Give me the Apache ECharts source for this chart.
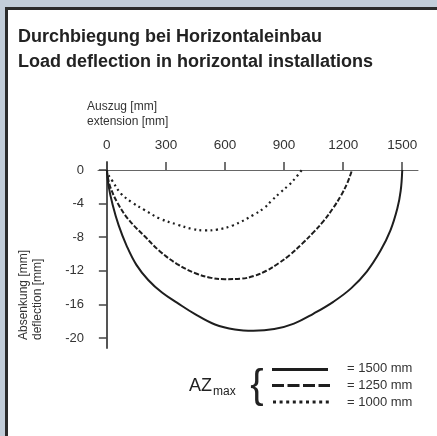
<!DOCTYPE html>
<html>
<head>
<meta charset="utf-8">
<script src="https://cdn.jsdelivr.net/npm/echarts@6/dist/echarts.min.js"></script>
<style>html,body{margin:0;padding:0;background:#c2cdd9;}#c{width:437px;height:436px;}</style>
</head>
<body>
<div id="c"></div>
<script>
// Data
var xTicks = [0, 300, 600, 900, 1200, 1500];
var yTicks = [0, -4, -8, -12, -16, -20];

var solidX = [0, 8, 30, 60, 100, 150, 210, 280, 356, 450, 549, 650, 744, 850, 950, 1050, 1150, 1240, 1320, 1390, 1440, 1475, 1492, 1500];
var solidY = [0, -1.8, -4.2, -6.6, -9.0, -11.3, -13.1, -14.6, -15.8, -17.2, -18.4, -19.0, -19.15, -18.95, -18.3, -17.1, -15.7, -14.1, -12.1, -9.6, -7.2, -4.6, -2.5, 0];

var dashX = [0, 6, 20, 56, 110, 192, 270, 357, 450, 530, 600, 680, 750, 810, 873, 930, 991, 1050, 1100, 1150, 1190, 1222, 1245];
var dashY = [0, -1, -2.2, -4, -5.9, -7.9, -9.7, -11.2, -12.3, -12.85, -13.0, -12.95, -12.6, -12.0, -11.1, -10.1, -8.8, -7.4, -6.1, -4.5, -3.0, -1.5, 0];

var dotX = [0, 8, 25, 71, 130, 191, 270, 357, 430, 498, 560, 640, 744, 800, 839, 880, 924, 960, 990];
var dotY = [0, -0.6, -1.2, -2.8, -3.9, -4.76, -5.8, -6.5, -7.0, -7.2, -7.1, -6.6, -5.36, -4.5, -3.6, -2.7, -1.8, -0.9, 0];

var legendLabels = ['= 1500 mm', '= 1250 mm', '= 1000 mm'];

function pairs(xs, ys) { return xs.map(function (x, i) { return [x, ys[i]]; }); }

var FONT = '"Liberation Sans", Arial, sans-serif';
var ink = '#1e1e1e';

var chart = echarts.init(document.getElementById('c'));
chart.setOption({
  backgroundColor: '#c2cdd9',
  animation: false,
  grid: { left: 98, top: 162, width: 320, height: 186, containLabel: false },
  xAxis: {
    type: 'value', position: 'top', min: -45, max: 1580,
    axisLine: { onZero: true, lineStyle: { color: '#666', width: 1 } },
    axisTick: { show: true, length: 8, customValues: xTicks, lineStyle: { color: '#444', width: 1.5 } },
    axisLabel: { customValues: xTicks, margin: 10, fontSize: 13.5, fontFamily: FONT, color: '#333',
      formatter: function (v) { return String(v); } },
    splitLine: { show: false }
  },
  yAxis: {
    type: 'value', min: -21.2, max: 0.95,
    axisLine: { onZero: true, lineStyle: { color: '#555', width: 2 } },
    axisTick: { show: true, length: 8, customValues: yTicks, lineStyle: { color: '#444', width: 1.5 } },
    axisLabel: { customValues: yTicks, margin: 14, fontSize: 13, fontFamily: FONT, color: '#333',
      formatter: function (v) { return String(v); } },
    splitLine: { show: false }
  },
  series: [
    { type: 'line', data: pairs(solidX, solidY), smooth: 0.4, symbol: 'none', lineStyle: { color: ink, width: 2 } },
    { type: 'line', data: pairs(dashX, dashY), smooth: 0.4, symbol: 'none', lineStyle: { color: ink, width: 2, type: [5, 2] } },
    { type: 'line', data: pairs(dotX, dotY), smooth: 0.4, symbol: 'none', lineStyle: { color: ink, width: 2.2, type: [2, 3.5] } }
  ],
  graphic: [
    { type: 'rect', z: -10, shape: { x: 6.5, y: 8.5, width: 440, height: 440 }, style: { fill: '#fff', stroke: '#2b2b2b', lineWidth: 3 } },
    { type: 'text', x: 18, y: 37, style: { text: 'Durchbiegung bei Horizontaleinbau', font: 'bold 18px ' + FONT, fill: '#222', verticalAlign: 'middle' } },
    { type: 'text', x: 18, y: 62, style: { text: 'Load deflection in horizontal installations', font: 'bold 18px ' + FONT, fill: '#222', verticalAlign: 'middle' } },
    { type: 'text', x: 87, y: 107, style: { text: 'Auszug [mm]', font: '12px ' + FONT, fill: '#333', verticalAlign: 'middle' } },
    { type: 'text', x: 87, y: 122, style: { text: 'extension [mm]', font: '12px ' + FONT, fill: '#333', verticalAlign: 'middle' } },
    { type: 'text', x: 24, y: 340, rotation: Math.PI / 2, style: { text: 'Absenkung [mm]', font: '12px ' + FONT, fill: '#333', align: 'left', verticalAlign: 'middle' } },
    { type: 'text', x: 38, y: 340, rotation: Math.PI / 2, style: { text: 'deflection [mm]', font: '12px ' + FONT, fill: '#333', align: 'left', verticalAlign: 'middle' } },
    { type: 'text', x: 189, y: 386, style: { text: 'AZ', font: '18px ' + FONT, fill: '#222', verticalAlign: 'middle' } },
    { type: 'text', x: 213, y: 392, style: { text: 'max', font: '12px ' + FONT, fill: '#222', verticalAlign: 'middle' } },
    { type: 'text', x: 257, y: 387, style: { text: '{', font: '40px ' + FONT, fill: '#222', align: 'center', verticalAlign: 'middle' } },
    { type: 'line', shape: { x1: 272, y1: 369.5, x2: 328, y2: 369.5 }, style: { stroke: ink, lineWidth: 3 } },
    { type: 'line', shape: { x1: 272, y1: 385.5, x2: 330, y2: 385.5 }, style: { stroke: ink, lineWidth: 3, lineDash: [12, 3.5] } },
    { type: 'line', shape: { x1: 273, y1: 402, x2: 331, y2: 402 }, style: { stroke: ink, lineWidth: 3, lineDash: [3, 3.6] } },
    { type: 'text', x: 347, y: 368, style: { text: legendLabels[0], font: '13px ' + FONT, fill: '#333', verticalAlign: 'middle' } },
    { type: 'text', x: 347, y: 385, style: { text: legendLabels[1], font: '13px ' + FONT, fill: '#333', verticalAlign: 'middle' } },
    { type: 'text', x: 347, y: 402, style: { text: legendLabels[2], font: '13px ' + FONT, fill: '#333', verticalAlign: 'middle' } }
  ]
});
</script>
</body>
</html>
